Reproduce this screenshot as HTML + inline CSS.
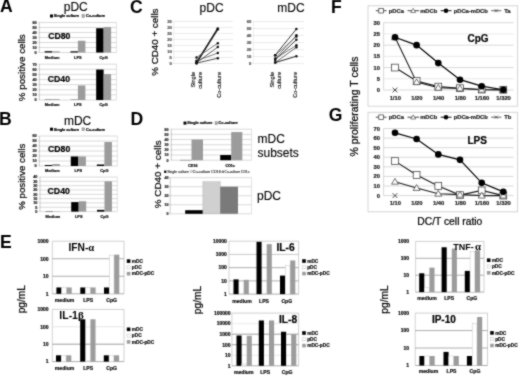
<!DOCTYPE html>
<html><head><meta charset="utf-8"><style>
html,body{margin:0;padding:0;background:#fff;width:520px;height:376px;overflow:hidden}
svg{display:block;filter:grayscale(1)}
text{font-family:"Liberation Sans", sans-serif}
</style></head><body>
<svg width="520" height="376" viewBox="0 0 520 376">
<defs><filter id="soft" x="0" y="0" width="1" height="1" color-interpolation-filters="sRGB"><feConvolveMatrix order="3" kernelMatrix="1 2 1 2 12 2 1 2 1" divisor="24" edgeMode="duplicate"/></filter></defs>
<rect width="520" height="376" fill="#fff"/>
<g filter="url(#soft)">
<rect width="520" height="376" fill="#fff"/>
<text x="0" y="12" font-size="17.6" font-weight="bold" fill="#000">A</text>
<text x="-1.0" y="125" font-size="17.6" font-weight="bold" fill="#000">B</text>
<text x="130.0" y="13" font-size="17.6" font-weight="bold" fill="#000">C</text>
<text x="130.4" y="125" font-size="17.6" font-weight="bold" fill="#000">D</text>
<text x="-0.1" y="248" font-size="17.6" font-weight="bold" fill="#000">E</text>
<text x="330.9" y="13" font-size="17.6" font-weight="bold" fill="#000">F</text>
<text x="328.8" y="121" font-size="17.6" font-weight="bold" fill="#000">G</text>
<text x="75.8" y="11.4" font-size="12" text-anchor="middle" fill="#000" stroke="#000" stroke-width="0.12">pDC</text>
<rect x="50.00" y="14.50" width="3.00" height="3.00" fill="#000"/>
<text x="53.8" y="17.3" font-size="3.8" font-weight="bold" fill="#000" stroke="#000" stroke-width="0.22">Single culture</text>
<rect x="82.00" y="14.70" width="2.60" height="2.60" fill="#b0b0b0" stroke="#777" stroke-width="0.5"/>
<text x="86.0" y="17.3" font-size="3.8" font-weight="bold" fill="#000" stroke="#000" stroke-width="0.22">Co-culture</text>
<line x1="39.30" y1="52.50" x2="116.50" y2="52.50" stroke="#d0d0d0" stroke-width="0.8"/>
<line x1="38.50" y1="52.50" x2="39.30" y2="52.50" stroke="#888" stroke-width="0.4"/>
<text x="36.699999999999996" y="53.9" font-size="3.8" font-weight="bold" text-anchor="end" fill="#222" stroke="#222" stroke-width="0.22">0</text>
<line x1="39.30" y1="47.50" x2="116.50" y2="47.50" stroke="#d0d0d0" stroke-width="0.8"/>
<line x1="38.50" y1="47.50" x2="39.30" y2="47.50" stroke="#888" stroke-width="0.4"/>
<text x="36.699999999999996" y="48.9" font-size="3.8" font-weight="bold" text-anchor="end" fill="#222" stroke="#222" stroke-width="0.22">10</text>
<line x1="39.30" y1="42.50" x2="116.50" y2="42.50" stroke="#d0d0d0" stroke-width="0.8"/>
<line x1="38.50" y1="42.50" x2="39.30" y2="42.50" stroke="#888" stroke-width="0.4"/>
<text x="36.699999999999996" y="43.9" font-size="3.8" font-weight="bold" text-anchor="end" fill="#222" stroke="#222" stroke-width="0.22">20</text>
<line x1="39.30" y1="37.50" x2="116.50" y2="37.50" stroke="#d0d0d0" stroke-width="0.8"/>
<line x1="38.50" y1="37.50" x2="39.30" y2="37.50" stroke="#888" stroke-width="0.4"/>
<text x="36.699999999999996" y="38.9" font-size="3.8" font-weight="bold" text-anchor="end" fill="#222" stroke="#222" stroke-width="0.22">30</text>
<line x1="39.30" y1="32.50" x2="116.50" y2="32.50" stroke="#d0d0d0" stroke-width="0.8"/>
<line x1="38.50" y1="32.50" x2="39.30" y2="32.50" stroke="#888" stroke-width="0.4"/>
<text x="36.699999999999996" y="33.9" font-size="3.8" font-weight="bold" text-anchor="end" fill="#222" stroke="#222" stroke-width="0.22">40</text>
<line x1="39.30" y1="27.50" x2="116.50" y2="27.50" stroke="#d0d0d0" stroke-width="0.8"/>
<line x1="38.50" y1="27.50" x2="39.30" y2="27.50" stroke="#888" stroke-width="0.4"/>
<text x="36.699999999999996" y="28.9" font-size="3.8" font-weight="bold" text-anchor="end" fill="#222" stroke="#222" stroke-width="0.22">50</text>
<line x1="39.30" y1="22.50" x2="116.50" y2="22.50" stroke="#d0d0d0" stroke-width="0.8"/>
<line x1="38.50" y1="22.50" x2="39.30" y2="22.50" stroke="#888" stroke-width="0.4"/>
<text x="36.699999999999996" y="23.9" font-size="3.8" font-weight="bold" text-anchor="end" fill="#222" stroke="#222" stroke-width="0.22">60</text>
<line x1="39.30" y1="22.50" x2="39.30" y2="52.50" stroke="#999" stroke-width="0.5"/>
<line x1="116.50" y1="22.50" x2="116.50" y2="52.50" stroke="#d0d0d0" stroke-width="0.6"/>
<rect x="44.70" y="51.20" width="7.46" height="1.30" fill="#000"/>
<rect x="52.17" y="51.30" width="7.46" height="1.20" fill="#9c9c9c"/>
<rect x="70.44" y="51.30" width="7.46" height="1.20" fill="#000"/>
<rect x="77.90" y="40.75" width="7.46" height="11.75" fill="#9c9c9c"/>
<rect x="96.17" y="28.25" width="7.46" height="24.25" fill="#000"/>
<rect x="103.63" y="27.00" width="7.46" height="25.50" fill="#9c9c9c"/>
<text x="52.166666666666664" y="59.3" font-size="3.9" font-weight="bold" text-anchor="middle" fill="#111" stroke="#111" stroke-width="0.22">Medium</text>
<text x="77.9" y="59.3" font-size="3.9" font-weight="bold" text-anchor="middle" fill="#111" stroke="#111" stroke-width="0.22">LPS</text>
<text x="103.63333333333334" y="59.3" font-size="3.9" font-weight="bold" text-anchor="middle" fill="#111" stroke="#111" stroke-width="0.22">CpG</text>
<text x="48.2" y="39.2" font-size="8.7" font-weight="bold" fill="#000" stroke="#000" stroke-width="0.2">CD80</text>
<line x1="39.30" y1="100.00" x2="116.50" y2="100.00" stroke="#d0d0d0" stroke-width="0.8"/>
<line x1="38.50" y1="100.00" x2="39.30" y2="100.00" stroke="#888" stroke-width="0.4"/>
<text x="36.699999999999996" y="101.4" font-size="3.8" font-weight="bold" text-anchor="end" fill="#222" stroke="#222" stroke-width="0.22">0</text>
<line x1="39.30" y1="94.89" x2="116.50" y2="94.89" stroke="#d0d0d0" stroke-width="0.8"/>
<line x1="38.50" y1="94.89" x2="39.30" y2="94.89" stroke="#888" stroke-width="0.4"/>
<text x="36.699999999999996" y="96.28571428571429" font-size="3.8" font-weight="bold" text-anchor="end" fill="#222" stroke="#222" stroke-width="0.22">10</text>
<line x1="39.30" y1="89.77" x2="116.50" y2="89.77" stroke="#d0d0d0" stroke-width="0.8"/>
<line x1="38.50" y1="89.77" x2="39.30" y2="89.77" stroke="#888" stroke-width="0.4"/>
<text x="36.699999999999996" y="91.17142857142858" font-size="3.8" font-weight="bold" text-anchor="end" fill="#222" stroke="#222" stroke-width="0.22">20</text>
<line x1="39.30" y1="84.66" x2="116.50" y2="84.66" stroke="#d0d0d0" stroke-width="0.8"/>
<line x1="38.50" y1="84.66" x2="39.30" y2="84.66" stroke="#888" stroke-width="0.4"/>
<text x="36.699999999999996" y="86.05714285714286" font-size="3.8" font-weight="bold" text-anchor="end" fill="#222" stroke="#222" stroke-width="0.22">30</text>
<line x1="39.30" y1="79.54" x2="116.50" y2="79.54" stroke="#d0d0d0" stroke-width="0.8"/>
<line x1="38.50" y1="79.54" x2="39.30" y2="79.54" stroke="#888" stroke-width="0.4"/>
<text x="36.699999999999996" y="80.94285714285715" font-size="3.8" font-weight="bold" text-anchor="end" fill="#222" stroke="#222" stroke-width="0.22">40</text>
<line x1="39.30" y1="74.43" x2="116.50" y2="74.43" stroke="#d0d0d0" stroke-width="0.8"/>
<line x1="38.50" y1="74.43" x2="39.30" y2="74.43" stroke="#888" stroke-width="0.4"/>
<text x="36.699999999999996" y="75.82857142857144" font-size="3.8" font-weight="bold" text-anchor="end" fill="#222" stroke="#222" stroke-width="0.22">50</text>
<line x1="39.30" y1="69.31" x2="116.50" y2="69.31" stroke="#d0d0d0" stroke-width="0.8"/>
<line x1="38.50" y1="69.31" x2="39.30" y2="69.31" stroke="#888" stroke-width="0.4"/>
<text x="36.699999999999996" y="70.71428571428572" font-size="3.8" font-weight="bold" text-anchor="end" fill="#222" stroke="#222" stroke-width="0.22">60</text>
<line x1="39.30" y1="64.20" x2="116.50" y2="64.20" stroke="#d0d0d0" stroke-width="0.8"/>
<line x1="38.50" y1="64.20" x2="39.30" y2="64.20" stroke="#888" stroke-width="0.4"/>
<text x="36.699999999999996" y="65.60000000000001" font-size="3.8" font-weight="bold" text-anchor="end" fill="#222" stroke="#222" stroke-width="0.22">70</text>
<line x1="39.30" y1="64.20" x2="39.30" y2="100.00" stroke="#999" stroke-width="0.5"/>
<line x1="116.50" y1="64.20" x2="116.50" y2="100.00" stroke="#d0d0d0" stroke-width="0.6"/>
<rect x="44.70" y="99.69" width="7.46" height="0.31" fill="#000"/>
<rect x="52.17" y="99.18" width="7.46" height="0.82" fill="#9c9c9c"/>
<rect x="70.44" y="99.74" width="7.46" height="0.26" fill="#000"/>
<rect x="77.90" y="85.48" width="7.46" height="14.52" fill="#9c9c9c"/>
<rect x="96.17" y="69.57" width="7.46" height="30.43" fill="#000"/>
<rect x="103.63" y="74.12" width="7.46" height="25.88" fill="#9c9c9c"/>
<text x="52.166666666666664" y="105.8" font-size="3.9" font-weight="bold" text-anchor="middle" fill="#111" stroke="#111" stroke-width="0.22">Medium</text>
<text x="77.9" y="105.8" font-size="3.9" font-weight="bold" text-anchor="middle" fill="#111" stroke="#111" stroke-width="0.22">LPS</text>
<text x="103.63333333333334" y="105.8" font-size="3.9" font-weight="bold" text-anchor="middle" fill="#111" stroke="#111" stroke-width="0.22">CpG</text>
<text x="47.8" y="81.6" font-size="8.7" font-weight="bold" fill="#000" stroke="#000" stroke-width="0.2">CD40</text>
<text x="0" y="0" font-size="9.8" text-anchor="middle" fill="#000" transform="translate(25.4,67.75) rotate(-90)" stroke="#000" stroke-width="0.22">% positive cells</text>
<text x="77.6" y="125.4" font-size="12" text-anchor="middle" fill="#000" stroke="#000" stroke-width="0.12">mDC</text>
<rect x="50.00" y="127.70" width="3.00" height="3.00" fill="#000"/>
<text x="53.8" y="130.5" font-size="3.8" font-weight="bold" fill="#000" stroke="#000" stroke-width="0.22">Single culture</text>
<rect x="82.00" y="127.90" width="2.60" height="2.60" fill="#b0b0b0" stroke="#777" stroke-width="0.5"/>
<text x="86.0" y="130.5" font-size="3.8" font-weight="bold" fill="#000" stroke="#000" stroke-width="0.22">Co-culture</text>
<line x1="39.30" y1="166.00" x2="117.40" y2="166.00" stroke="#d0d0d0" stroke-width="0.8"/>
<line x1="38.50" y1="166.00" x2="39.30" y2="166.00" stroke="#888" stroke-width="0.4"/>
<text x="36.699999999999996" y="167.4" font-size="3.8" font-weight="bold" text-anchor="end" fill="#222" stroke="#222" stroke-width="0.22">0</text>
<line x1="39.30" y1="161.00" x2="117.40" y2="161.00" stroke="#d0d0d0" stroke-width="0.8"/>
<line x1="38.50" y1="161.00" x2="39.30" y2="161.00" stroke="#888" stroke-width="0.4"/>
<text x="36.699999999999996" y="162.4" font-size="3.8" font-weight="bold" text-anchor="end" fill="#222" stroke="#222" stroke-width="0.22">10</text>
<line x1="39.30" y1="156.00" x2="117.40" y2="156.00" stroke="#d0d0d0" stroke-width="0.8"/>
<line x1="38.50" y1="156.00" x2="39.30" y2="156.00" stroke="#888" stroke-width="0.4"/>
<text x="36.699999999999996" y="157.4" font-size="3.8" font-weight="bold" text-anchor="end" fill="#222" stroke="#222" stroke-width="0.22">20</text>
<line x1="39.30" y1="151.00" x2="117.40" y2="151.00" stroke="#d0d0d0" stroke-width="0.8"/>
<line x1="38.50" y1="151.00" x2="39.30" y2="151.00" stroke="#888" stroke-width="0.4"/>
<text x="36.699999999999996" y="152.4" font-size="3.8" font-weight="bold" text-anchor="end" fill="#222" stroke="#222" stroke-width="0.22">30</text>
<line x1="39.30" y1="146.00" x2="117.40" y2="146.00" stroke="#d0d0d0" stroke-width="0.8"/>
<line x1="38.50" y1="146.00" x2="39.30" y2="146.00" stroke="#888" stroke-width="0.4"/>
<text x="36.699999999999996" y="147.4" font-size="3.8" font-weight="bold" text-anchor="end" fill="#222" stroke="#222" stroke-width="0.22">40</text>
<line x1="39.30" y1="141.00" x2="117.40" y2="141.00" stroke="#d0d0d0" stroke-width="0.8"/>
<line x1="38.50" y1="141.00" x2="39.30" y2="141.00" stroke="#888" stroke-width="0.4"/>
<text x="36.699999999999996" y="142.4" font-size="3.8" font-weight="bold" text-anchor="end" fill="#222" stroke="#222" stroke-width="0.22">50</text>
<line x1="39.30" y1="136.00" x2="117.40" y2="136.00" stroke="#d0d0d0" stroke-width="0.8"/>
<line x1="38.50" y1="136.00" x2="39.30" y2="136.00" stroke="#888" stroke-width="0.4"/>
<text x="36.699999999999996" y="137.4" font-size="3.8" font-weight="bold" text-anchor="end" fill="#222" stroke="#222" stroke-width="0.22">60</text>
<line x1="39.30" y1="136.00" x2="39.30" y2="166.00" stroke="#999" stroke-width="0.5"/>
<line x1="117.40" y1="136.00" x2="117.40" y2="166.00" stroke="#d0d0d0" stroke-width="0.6"/>
<rect x="44.77" y="165.00" width="7.55" height="1.00" fill="#000"/>
<rect x="52.32" y="164.00" width="7.55" height="2.00" fill="#9c9c9c"/>
<rect x="70.80" y="156.50" width="7.55" height="9.50" fill="#000"/>
<rect x="78.35" y="156.50" width="7.55" height="9.50" fill="#9c9c9c"/>
<rect x="96.83" y="164.50" width="7.55" height="1.50" fill="#000"/>
<rect x="104.38" y="142.00" width="7.55" height="24.00" fill="#9c9c9c"/>
<text x="52.31666666666666" y="172.2" font-size="3.9" font-weight="bold" text-anchor="middle" fill="#111" stroke="#111" stroke-width="0.22">Medium</text>
<text x="78.35" y="172.2" font-size="3.9" font-weight="bold" text-anchor="middle" fill="#111" stroke="#111" stroke-width="0.22">LPS</text>
<text x="104.38333333333334" y="172.2" font-size="3.9" font-weight="bold" text-anchor="middle" fill="#111" stroke="#111" stroke-width="0.22">CpG</text>
<text x="48" y="152.2" font-size="8.7" font-weight="bold" fill="#000" stroke="#000" stroke-width="0.2">CD80</text>
<line x1="40.00" y1="211.60" x2="117.40" y2="211.60" stroke="#d0d0d0" stroke-width="0.8"/>
<line x1="39.20" y1="211.60" x2="40.00" y2="211.60" stroke="#888" stroke-width="0.4"/>
<text x="37.4" y="213.0" font-size="3.8" font-weight="bold" text-anchor="end" fill="#222" stroke="#222" stroke-width="0.22">0</text>
<line x1="40.00" y1="207.28" x2="117.40" y2="207.28" stroke="#d0d0d0" stroke-width="0.8"/>
<line x1="39.20" y1="207.28" x2="40.00" y2="207.28" stroke="#888" stroke-width="0.4"/>
<text x="37.4" y="208.675" font-size="3.8" font-weight="bold" text-anchor="end" fill="#222" stroke="#222" stroke-width="0.22">5</text>
<line x1="40.00" y1="202.95" x2="117.40" y2="202.95" stroke="#d0d0d0" stroke-width="0.8"/>
<line x1="39.20" y1="202.95" x2="40.00" y2="202.95" stroke="#888" stroke-width="0.4"/>
<text x="37.4" y="204.35" font-size="3.8" font-weight="bold" text-anchor="end" fill="#222" stroke="#222" stroke-width="0.22">10</text>
<line x1="40.00" y1="198.62" x2="117.40" y2="198.62" stroke="#d0d0d0" stroke-width="0.8"/>
<line x1="39.20" y1="198.62" x2="40.00" y2="198.62" stroke="#888" stroke-width="0.4"/>
<text x="37.4" y="200.025" font-size="3.8" font-weight="bold" text-anchor="end" fill="#222" stroke="#222" stroke-width="0.22">15</text>
<line x1="40.00" y1="194.30" x2="117.40" y2="194.30" stroke="#d0d0d0" stroke-width="0.8"/>
<line x1="39.20" y1="194.30" x2="40.00" y2="194.30" stroke="#888" stroke-width="0.4"/>
<text x="37.4" y="195.70000000000002" font-size="3.8" font-weight="bold" text-anchor="end" fill="#222" stroke="#222" stroke-width="0.22">20</text>
<line x1="40.00" y1="189.97" x2="117.40" y2="189.97" stroke="#d0d0d0" stroke-width="0.8"/>
<line x1="39.20" y1="189.97" x2="40.00" y2="189.97" stroke="#888" stroke-width="0.4"/>
<text x="37.4" y="191.375" font-size="3.8" font-weight="bold" text-anchor="end" fill="#222" stroke="#222" stroke-width="0.22">25</text>
<line x1="40.00" y1="185.65" x2="117.40" y2="185.65" stroke="#d0d0d0" stroke-width="0.8"/>
<line x1="39.20" y1="185.65" x2="40.00" y2="185.65" stroke="#888" stroke-width="0.4"/>
<text x="37.4" y="187.05" font-size="3.8" font-weight="bold" text-anchor="end" fill="#222" stroke="#222" stroke-width="0.22">30</text>
<line x1="40.00" y1="181.32" x2="117.40" y2="181.32" stroke="#d0d0d0" stroke-width="0.8"/>
<line x1="39.20" y1="181.32" x2="40.00" y2="181.32" stroke="#888" stroke-width="0.4"/>
<text x="37.4" y="182.725" font-size="3.8" font-weight="bold" text-anchor="end" fill="#222" stroke="#222" stroke-width="0.22">35</text>
<line x1="40.00" y1="177.00" x2="117.40" y2="177.00" stroke="#d0d0d0" stroke-width="0.8"/>
<line x1="39.20" y1="177.00" x2="40.00" y2="177.00" stroke="#888" stroke-width="0.4"/>
<text x="37.4" y="178.4" font-size="3.8" font-weight="bold" text-anchor="end" fill="#222" stroke="#222" stroke-width="0.22">40</text>
<line x1="40.00" y1="177.00" x2="40.00" y2="211.60" stroke="#999" stroke-width="0.5"/>
<line x1="117.40" y1="177.00" x2="117.40" y2="211.60" stroke="#d0d0d0" stroke-width="0.6"/>
<rect x="45.42" y="211.25" width="7.48" height="0.35" fill="#000"/>
<rect x="52.90" y="211.34" width="7.48" height="0.26" fill="#9c9c9c"/>
<rect x="71.22" y="202.09" width="7.48" height="9.51" fill="#000"/>
<rect x="78.70" y="201.22" width="7.48" height="10.38" fill="#9c9c9c"/>
<rect x="97.02" y="209.87" width="7.48" height="1.73" fill="#000"/>
<rect x="104.50" y="181.32" width="7.48" height="30.27" fill="#9c9c9c"/>
<text x="52.9" y="217.6" font-size="3.9" font-weight="bold" text-anchor="middle" fill="#111" stroke="#111" stroke-width="0.22">Medium</text>
<text x="78.7" y="217.6" font-size="3.9" font-weight="bold" text-anchor="middle" fill="#111" stroke="#111" stroke-width="0.22">LPS</text>
<text x="104.5" y="217.6" font-size="3.9" font-weight="bold" text-anchor="middle" fill="#111" stroke="#111" stroke-width="0.22">CpG</text>
<text x="47.6" y="193.6" font-size="8.7" font-weight="bold" fill="#000" stroke="#000" stroke-width="0.2">CD40</text>
<text x="0" y="0" font-size="9.7" text-anchor="middle" fill="#000" transform="translate(24.6,176.65) rotate(-90)" stroke="#000" stroke-width="0.22">% positive cells</text>
<text x="0" y="0" font-size="9.8" text-anchor="middle" fill="#000" transform="translate(157.6,42.15) rotate(-90)" stroke="#000" stroke-width="0.22">% CD40 + cells</text>
<line x1="173.90" y1="63.50" x2="233.00" y2="63.50" stroke="#e4e4e4" stroke-width="0.8"/>
<line x1="172.90" y1="63.50" x2="173.90" y2="63.50" stroke="#ccc" stroke-width="0.5"/>
<text x="171.9" y="65.0" font-size="4.1" font-weight="bold" text-anchor="end" fill="#555" stroke="#555" stroke-width="0.22">0</text>
<line x1="173.90" y1="57.49" x2="233.00" y2="57.49" stroke="#e4e4e4" stroke-width="0.8"/>
<line x1="172.90" y1="57.49" x2="173.90" y2="57.49" stroke="#ccc" stroke-width="0.5"/>
<text x="171.9" y="58.98571428571429" font-size="4.1" font-weight="bold" text-anchor="end" fill="#555" stroke="#555" stroke-width="0.22">5</text>
<line x1="173.90" y1="51.47" x2="233.00" y2="51.47" stroke="#e4e4e4" stroke-width="0.8"/>
<line x1="172.90" y1="51.47" x2="173.90" y2="51.47" stroke="#ccc" stroke-width="0.5"/>
<text x="171.9" y="52.971428571428575" font-size="4.1" font-weight="bold" text-anchor="end" fill="#555" stroke="#555" stroke-width="0.22">10</text>
<line x1="173.90" y1="45.46" x2="233.00" y2="45.46" stroke="#e4e4e4" stroke-width="0.8"/>
<line x1="172.90" y1="45.46" x2="173.90" y2="45.46" stroke="#ccc" stroke-width="0.5"/>
<text x="171.9" y="46.957142857142856" font-size="4.1" font-weight="bold" text-anchor="end" fill="#555" stroke="#555" stroke-width="0.22">15</text>
<line x1="173.90" y1="39.44" x2="233.00" y2="39.44" stroke="#e4e4e4" stroke-width="0.8"/>
<line x1="172.90" y1="39.44" x2="173.90" y2="39.44" stroke="#ccc" stroke-width="0.5"/>
<text x="171.9" y="40.94285714285714" font-size="4.1" font-weight="bold" text-anchor="end" fill="#555" stroke="#555" stroke-width="0.22">20</text>
<line x1="173.90" y1="33.43" x2="233.00" y2="33.43" stroke="#e4e4e4" stroke-width="0.8"/>
<line x1="172.90" y1="33.43" x2="173.90" y2="33.43" stroke="#ccc" stroke-width="0.5"/>
<text x="171.9" y="34.92857142857143" font-size="4.1" font-weight="bold" text-anchor="end" fill="#555" stroke="#555" stroke-width="0.22">25</text>
<line x1="173.90" y1="27.41" x2="233.00" y2="27.41" stroke="#e4e4e4" stroke-width="0.8"/>
<line x1="172.90" y1="27.41" x2="173.90" y2="27.41" stroke="#ccc" stroke-width="0.5"/>
<text x="171.9" y="28.91428571428571" font-size="4.1" font-weight="bold" text-anchor="end" fill="#555" stroke="#555" stroke-width="0.22">30</text>
<line x1="173.90" y1="21.40" x2="233.00" y2="21.40" stroke="#e4e4e4" stroke-width="0.8"/>
<line x1="172.90" y1="21.40" x2="173.90" y2="21.40" stroke="#ccc" stroke-width="0.5"/>
<text x="171.9" y="22.9" font-size="4.1" font-weight="bold" text-anchor="end" fill="#555" stroke="#555" stroke-width="0.22">35</text>
<line x1="173.90" y1="21.40" x2="173.90" y2="63.50" stroke="#e4e4e4" stroke-width="0.6"/>
<text x="211.6" y="12" font-size="12" text-anchor="middle" fill="#000" stroke="#000" stroke-width="0.12">pDC</text>
<line x1="196.50" y1="63.14" x2="217.80" y2="28.38" stroke="#111" stroke-width="1.4"/>
<line x1="196.50" y1="62.06" x2="217.80" y2="29.34" stroke="#222" stroke-width="1.2"/>
<line x1="196.50" y1="57.49" x2="217.80" y2="43.29" stroke="#555" stroke-width="0.8"/>
<line x1="196.50" y1="62.78" x2="217.80" y2="47.02" stroke="#333" stroke-width="0.8"/>
<line x1="196.50" y1="60.85" x2="217.80" y2="53.04" stroke="#555" stroke-width="0.8"/>
<line x1="196.50" y1="63.14" x2="217.80" y2="58.21" stroke="#222" stroke-width="0.8"/>
<circle cx="196.50" cy="63.14" r="1.25" fill="#111"/>
<circle cx="217.80" cy="28.38" r="1.25" fill="#111"/>
<circle cx="196.50" cy="62.06" r="1.25" fill="#111"/>
<circle cx="217.80" cy="29.34" r="1.25" fill="#111"/>
<circle cx="196.50" cy="57.49" r="1.25" fill="#111"/>
<circle cx="217.80" cy="43.29" r="1.25" fill="#111"/>
<circle cx="196.50" cy="62.78" r="1.25" fill="#111"/>
<circle cx="217.80" cy="47.02" r="1.25" fill="#111"/>
<circle cx="196.50" cy="60.85" r="1.25" fill="#111"/>
<circle cx="217.80" cy="53.04" r="1.25" fill="#111"/>
<circle cx="196.50" cy="63.14" r="1.25" fill="#111"/>
<circle cx="217.80" cy="58.21" r="1.25" fill="#111"/>
<text x="0" y="0" font-size="5.6" text-anchor="end" fill="#111" transform="translate(194.9,72) rotate(-90)" stroke="#111" stroke-width="0.15">Single</text>
<text x="0" y="0" font-size="5.6" text-anchor="end" fill="#111" transform="translate(202.4,72) rotate(-90)" stroke="#111" stroke-width="0.15">culture</text>
<text x="0" y="0" font-size="5.6" text-anchor="end" fill="#111" transform="translate(220.6,72) rotate(-90)" stroke="#111" stroke-width="0.15">Co-culture</text>
<line x1="253.50" y1="63.60" x2="304.00" y2="63.60" stroke="#e4e4e4" stroke-width="0.8"/>
<line x1="252.50" y1="63.60" x2="253.50" y2="63.60" stroke="#ccc" stroke-width="0.5"/>
<text x="251.2" y="65.1" font-size="4.1" font-weight="bold" text-anchor="end" fill="#555" stroke="#555" stroke-width="0.22">0</text>
<line x1="253.50" y1="56.60" x2="304.00" y2="56.60" stroke="#e4e4e4" stroke-width="0.8"/>
<line x1="252.50" y1="56.60" x2="253.50" y2="56.60" stroke="#ccc" stroke-width="0.5"/>
<text x="251.2" y="58.1" font-size="4.1" font-weight="bold" text-anchor="end" fill="#555" stroke="#555" stroke-width="0.22">10</text>
<line x1="253.50" y1="49.60" x2="304.00" y2="49.60" stroke="#e4e4e4" stroke-width="0.8"/>
<line x1="252.50" y1="49.60" x2="253.50" y2="49.60" stroke="#ccc" stroke-width="0.5"/>
<text x="251.2" y="51.1" font-size="4.1" font-weight="bold" text-anchor="end" fill="#555" stroke="#555" stroke-width="0.22">20</text>
<line x1="253.50" y1="42.60" x2="304.00" y2="42.60" stroke="#e4e4e4" stroke-width="0.8"/>
<line x1="252.50" y1="42.60" x2="253.50" y2="42.60" stroke="#ccc" stroke-width="0.5"/>
<text x="251.2" y="44.1" font-size="4.1" font-weight="bold" text-anchor="end" fill="#555" stroke="#555" stroke-width="0.22">30</text>
<line x1="253.50" y1="35.60" x2="304.00" y2="35.60" stroke="#e4e4e4" stroke-width="0.8"/>
<line x1="252.50" y1="35.60" x2="253.50" y2="35.60" stroke="#ccc" stroke-width="0.5"/>
<text x="251.2" y="37.1" font-size="4.1" font-weight="bold" text-anchor="end" fill="#555" stroke="#555" stroke-width="0.22">40</text>
<line x1="253.50" y1="28.60" x2="304.00" y2="28.60" stroke="#e4e4e4" stroke-width="0.8"/>
<line x1="252.50" y1="28.60" x2="253.50" y2="28.60" stroke="#ccc" stroke-width="0.5"/>
<text x="251.2" y="30.1" font-size="4.1" font-weight="bold" text-anchor="end" fill="#555" stroke="#555" stroke-width="0.22">50</text>
<line x1="253.50" y1="21.60" x2="304.00" y2="21.60" stroke="#e4e4e4" stroke-width="0.8"/>
<line x1="252.50" y1="21.60" x2="253.50" y2="21.60" stroke="#ccc" stroke-width="0.5"/>
<text x="251.2" y="23.1" font-size="4.1" font-weight="bold" text-anchor="end" fill="#555" stroke="#555" stroke-width="0.22">60</text>
<line x1="253.50" y1="21.60" x2="253.50" y2="63.60" stroke="#e4e4e4" stroke-width="0.6"/>
<text x="291" y="12" font-size="12" text-anchor="middle" fill="#000" stroke="#000" stroke-width="0.12">mDC</text>
<line x1="275.20" y1="55.20" x2="296.40" y2="29.02" stroke="#222" stroke-width="0.9"/>
<line x1="275.20" y1="58.63" x2="296.40" y2="35.32" stroke="#555" stroke-width="0.8"/>
<line x1="275.20" y1="55.20" x2="296.40" y2="36.58" stroke="#666" stroke-width="0.8"/>
<line x1="275.20" y1="59.89" x2="296.40" y2="39.73" stroke="#222" stroke-width="0.9"/>
<line x1="275.20" y1="58.63" x2="296.40" y2="45.33" stroke="#555" stroke-width="0.8"/>
<line x1="275.20" y1="62.62" x2="296.40" y2="47.29" stroke="#444" stroke-width="0.8"/>
<line x1="275.20" y1="62.62" x2="296.40" y2="56.18" stroke="#222" stroke-width="1.0"/>
<circle cx="275.20" cy="55.20" r="1.25" fill="#111"/>
<circle cx="296.40" cy="29.02" r="1.25" fill="#111"/>
<circle cx="275.20" cy="58.63" r="1.25" fill="#111"/>
<circle cx="296.40" cy="35.32" r="1.25" fill="#111"/>
<circle cx="275.20" cy="55.20" r="1.25" fill="#111"/>
<circle cx="296.40" cy="36.58" r="1.25" fill="#111"/>
<circle cx="275.20" cy="59.89" r="1.25" fill="#111"/>
<circle cx="296.40" cy="39.73" r="1.25" fill="#111"/>
<circle cx="275.20" cy="58.63" r="1.25" fill="#111"/>
<circle cx="296.40" cy="45.33" r="1.25" fill="#111"/>
<circle cx="275.20" cy="62.62" r="1.25" fill="#111"/>
<circle cx="296.40" cy="47.29" r="1.25" fill="#111"/>
<circle cx="275.20" cy="62.62" r="1.25" fill="#111"/>
<circle cx="296.40" cy="56.18" r="1.25" fill="#111"/>
<text x="0" y="0" font-size="5.6" text-anchor="end" fill="#111" transform="translate(273.59999999999997,72) rotate(-90)" stroke="#111" stroke-width="0.15">Single</text>
<text x="0" y="0" font-size="5.6" text-anchor="end" fill="#111" transform="translate(281.09999999999997,72) rotate(-90)" stroke="#111" stroke-width="0.15">culture</text>
<text x="0" y="0" font-size="5.6" text-anchor="end" fill="#111" transform="translate(297.4,72) rotate(-90)" stroke="#111" stroke-width="0.15">Co-culture</text>
<text x="0" y="0" font-size="9.9" text-anchor="middle" fill="#000" transform="translate(160.6,174.3) rotate(-90)" stroke="#000" stroke-width="0.22">% CD40 + cells</text>
<rect x="183.50" y="121.60" width="3.00" height="3.00" fill="#000"/>
<text x="187.3" y="124.4" font-size="3.8" font-weight="bold" fill="#000" stroke="#000" stroke-width="0.22">Single culture</text>
<rect x="215.00" y="121.80" width="2.60" height="2.60" fill="#b0b0b0" stroke="#777" stroke-width="0.5"/>
<text x="218.6" y="124.4" font-size="3.8" font-weight="bold" fill="#000" stroke="#000" stroke-width="0.22">Co-culture</text>
<line x1="171.30" y1="160.20" x2="251.50" y2="160.20" stroke="#d0d0d0" stroke-width="0.8"/>
<line x1="170.50" y1="160.20" x2="171.30" y2="160.20" stroke="#888" stroke-width="0.4"/>
<text x="168.6" y="161.5" font-size="3.6" font-weight="bold" text-anchor="end" fill="#222" stroke="#222" stroke-width="0.22">0</text>
<line x1="171.30" y1="155.03" x2="251.50" y2="155.03" stroke="#d0d0d0" stroke-width="0.8"/>
<line x1="170.50" y1="155.03" x2="171.30" y2="155.03" stroke="#888" stroke-width="0.4"/>
<text x="168.6" y="156.33333333333334" font-size="3.6" font-weight="bold" text-anchor="end" fill="#222" stroke="#222" stroke-width="0.22">10</text>
<line x1="171.30" y1="149.87" x2="251.50" y2="149.87" stroke="#d0d0d0" stroke-width="0.8"/>
<line x1="170.50" y1="149.87" x2="171.30" y2="149.87" stroke="#888" stroke-width="0.4"/>
<text x="168.6" y="151.16666666666666" font-size="3.6" font-weight="bold" text-anchor="end" fill="#222" stroke="#222" stroke-width="0.22">20</text>
<line x1="171.30" y1="144.70" x2="251.50" y2="144.70" stroke="#d0d0d0" stroke-width="0.8"/>
<line x1="170.50" y1="144.70" x2="171.30" y2="144.70" stroke="#888" stroke-width="0.4"/>
<text x="168.6" y="146.0" font-size="3.6" font-weight="bold" text-anchor="end" fill="#222" stroke="#222" stroke-width="0.22">30</text>
<line x1="171.30" y1="139.53" x2="251.50" y2="139.53" stroke="#d0d0d0" stroke-width="0.8"/>
<line x1="170.50" y1="139.53" x2="171.30" y2="139.53" stroke="#888" stroke-width="0.4"/>
<text x="168.6" y="140.83333333333334" font-size="3.6" font-weight="bold" text-anchor="end" fill="#222" stroke="#222" stroke-width="0.22">40</text>
<line x1="171.30" y1="134.37" x2="251.50" y2="134.37" stroke="#d0d0d0" stroke-width="0.8"/>
<line x1="170.50" y1="134.37" x2="171.30" y2="134.37" stroke="#888" stroke-width="0.4"/>
<text x="168.6" y="135.66666666666666" font-size="3.6" font-weight="bold" text-anchor="end" fill="#222" stroke="#222" stroke-width="0.22">50</text>
<line x1="171.30" y1="129.20" x2="251.50" y2="129.20" stroke="#d0d0d0" stroke-width="0.8"/>
<line x1="170.50" y1="129.20" x2="171.30" y2="129.20" stroke="#888" stroke-width="0.4"/>
<text x="168.6" y="130.5" font-size="3.6" font-weight="bold" text-anchor="end" fill="#222" stroke="#222" stroke-width="0.22">60</text>
<line x1="171.30" y1="129.20" x2="171.30" y2="160.20" stroke="#999" stroke-width="0.5"/>
<line x1="251.50" y1="129.20" x2="251.50" y2="160.20" stroke="#d0d0d0" stroke-width="0.6"/>
<rect x="180.00" y="159.94" width="11.50" height="0.26" fill="#000"/>
<rect x="191.50" y="139.53" width="11.50" height="20.67" fill="#9c9c9c"/>
<rect x="220.20" y="155.03" width="11.00" height="5.17" fill="#000"/>
<rect x="231.20" y="132.04" width="11.10" height="28.16" fill="#9c9c9c"/>
<text x="192.8" y="166.8" font-size="3.6" font-weight="bold" text-anchor="middle" fill="#111" stroke="#111" stroke-width="0.22">CD16</text>
<text x="230.2" y="166.8" font-size="3.6" font-weight="bold" text-anchor="middle" fill="#111" stroke="#111" stroke-width="0.22">CD1c</text>
<text x="257.5" y="142.6" font-size="12" fill="#000" stroke="#000" stroke-width="0.12">mDC</text>
<text x="257.5" y="157.0" font-size="12" fill="#000" stroke="#000" stroke-width="0.12">subsets</text>
<rect x="164.10" y="170.60" width="2.30" height="2.30" fill="#000"/>
<text x="167.2" y="173.1" font-size="3.6" fill="#333" textLength="21.6" lengthAdjust="spacingAndGlyphs" stroke="#333" stroke-width="0.15">Single culture</text>
<rect x="190.10" y="170.60" width="2.20" height="2.20" fill="#ddd" stroke="#999" stroke-width="0.35"/>
<text x="192.8" y="173.1" font-size="3.6" fill="#333" textLength="28.0" lengthAdjust="spacingAndGlyphs" stroke="#333" stroke-width="0.15">Co-culture CD16</text>
<rect x="221.70" y="170.60" width="2.30" height="2.30" fill="#777"/>
<text x="224.5" y="173.1" font-size="3.6" fill="#333" textLength="24.9" lengthAdjust="spacingAndGlyphs" stroke="#333" stroke-width="0.15">Co-culture CD1c</text>
<line x1="170.20" y1="213.80" x2="251.50" y2="213.80" stroke="#d0d0d0" stroke-width="0.8"/>
<line x1="169.40" y1="213.80" x2="170.20" y2="213.80" stroke="#888" stroke-width="0.4"/>
<text x="168.6" y="215.10000000000002" font-size="3.6" font-weight="bold" text-anchor="end" fill="#222" stroke="#222" stroke-width="0.22">0</text>
<line x1="170.20" y1="204.78" x2="251.50" y2="204.78" stroke="#d0d0d0" stroke-width="0.8"/>
<line x1="169.40" y1="204.78" x2="170.20" y2="204.78" stroke="#888" stroke-width="0.4"/>
<text x="168.6" y="206.07500000000002" font-size="3.6" font-weight="bold" text-anchor="end" fill="#222" stroke="#222" stroke-width="0.22">10</text>
<line x1="170.20" y1="195.75" x2="251.50" y2="195.75" stroke="#d0d0d0" stroke-width="0.8"/>
<line x1="169.40" y1="195.75" x2="170.20" y2="195.75" stroke="#888" stroke-width="0.4"/>
<text x="168.6" y="197.05" font-size="3.6" font-weight="bold" text-anchor="end" fill="#222" stroke="#222" stroke-width="0.22">20</text>
<line x1="170.20" y1="186.72" x2="251.50" y2="186.72" stroke="#d0d0d0" stroke-width="0.8"/>
<line x1="169.40" y1="186.72" x2="170.20" y2="186.72" stroke="#888" stroke-width="0.4"/>
<text x="168.6" y="188.025" font-size="3.6" font-weight="bold" text-anchor="end" fill="#222" stroke="#222" stroke-width="0.22">30</text>
<line x1="170.20" y1="177.70" x2="251.50" y2="177.70" stroke="#d0d0d0" stroke-width="0.8"/>
<line x1="169.40" y1="177.70" x2="170.20" y2="177.70" stroke="#888" stroke-width="0.4"/>
<text x="168.6" y="179.0" font-size="3.6" font-weight="bold" text-anchor="end" fill="#222" stroke="#222" stroke-width="0.22">40</text>
<line x1="170.20" y1="177.70" x2="170.20" y2="213.80" stroke="#999" stroke-width="0.5"/>
<line x1="251.50" y1="177.70" x2="251.50" y2="213.80" stroke="#d0d0d0" stroke-width="0.6"/>
<rect x="185.20" y="210.19" width="17.70" height="3.61" fill="#000"/>
<rect x="202.90" y="181.76" width="17.30" height="32.04" fill="#d0d0d0" stroke="#aaa" stroke-width="0.4"/>
<rect x="220.20" y="186.72" width="17.80" height="27.08" fill="#7a7a7a"/>
<text x="257" y="200" font-size="12" fill="#000" stroke="#000" stroke-width="0.12">pDC</text>
<rect x="368.00" y="5.80" width="149.60" height="100.40" fill="#fff" stroke="#d0d0d0" stroke-width="0.9"/>
<line x1="375.80" y1="10.70" x2="386.60" y2="10.70" stroke="#333" stroke-width="0.9"/>
<rect x="378.80" y="8.40" width="4.60" height="4.60" fill="#fff" stroke="#333" stroke-width="0.7"/>
<text x="388.8" y="12.7" font-size="5.8" font-weight="bold" fill="#222" stroke="#222" stroke-width="0.22">pDCa</text>
<line x1="407.50" y1="10.70" x2="419.00" y2="10.70" stroke="#333" stroke-width="0.9"/>
<path d="M413.20,8.40 L415.70,12.50 L410.70,12.50 Z" stroke="#333" fill="#fff" stroke-width="0.6"/>
<text x="420.2" y="12.7" font-size="5.8" font-weight="bold" fill="#222" stroke="#222" stroke-width="0.22">mDCb</text>
<line x1="440.70" y1="10.70" x2="451.50" y2="10.70" stroke="#111" stroke-width="1.0"/>
<circle cx="446.00" cy="10.70" r="2.3" fill="#000"/>
<text x="453.7" y="12.7" font-size="5.8" font-weight="bold" fill="#222" stroke="#222" stroke-width="0.22">pDCa-mDCb</text>
<line x1="491.20" y1="10.70" x2="501.30" y2="10.70" stroke="#333" stroke-width="0.8"/>
<path d="M494.60,9.10 L497.80,12.30 M497.80,9.10 L494.60,12.30" stroke="#333" fill="none" stroke-width="0.6"/>
<text x="504.2" y="12.7" font-size="5.8" font-weight="bold" fill="#222" stroke="#222" stroke-width="0.22">Ta</text>
<line x1="383.60" y1="90.00" x2="513.50" y2="90.00" stroke="#d4d4d4" stroke-width="0.9"/>
<text x="380.0" y="92.0" font-size="5.8" font-weight="bold" text-anchor="end" fill="#222" stroke="#222" stroke-width="0.22">0</text>
<line x1="383.60" y1="78.78" x2="513.50" y2="78.78" stroke="#e6e6e6" stroke-width="0.9"/>
<text x="380.0" y="80.78333333333333" font-size="5.8" font-weight="bold" text-anchor="end" fill="#222" stroke="#222" stroke-width="0.22">5</text>
<line x1="383.60" y1="67.57" x2="513.50" y2="67.57" stroke="#d4d4d4" stroke-width="0.9"/>
<text x="380.0" y="69.56666666666666" font-size="5.8" font-weight="bold" text-anchor="end" fill="#222" stroke="#222" stroke-width="0.22">10</text>
<line x1="383.60" y1="56.35" x2="513.50" y2="56.35" stroke="#e6e6e6" stroke-width="0.9"/>
<text x="380.0" y="58.35" font-size="5.8" font-weight="bold" text-anchor="end" fill="#222" stroke="#222" stroke-width="0.22">15</text>
<line x1="383.60" y1="45.13" x2="513.50" y2="45.13" stroke="#d4d4d4" stroke-width="0.9"/>
<text x="380.0" y="47.13333333333334" font-size="5.8" font-weight="bold" text-anchor="end" fill="#222" stroke="#222" stroke-width="0.22">20</text>
<line x1="383.60" y1="33.92" x2="513.50" y2="33.92" stroke="#e6e6e6" stroke-width="0.9"/>
<text x="380.0" y="35.916666666666664" font-size="5.8" font-weight="bold" text-anchor="end" fill="#222" stroke="#222" stroke-width="0.22">25</text>
<line x1="383.60" y1="22.70" x2="513.50" y2="22.70" stroke="#d4d4d4" stroke-width="0.9"/>
<text x="380.0" y="24.700000000000003" font-size="5.8" font-weight="bold" text-anchor="end" fill="#222" stroke="#222" stroke-width="0.22">30</text>
<line x1="383.60" y1="22.70" x2="383.60" y2="90.00" stroke="#d4d4d4" stroke-width="0.9"/>
<text x="395.3" y="100.3" font-size="5.8" font-weight="bold" text-anchor="middle" fill="#222" stroke="#222" stroke-width="0.22">1/10</text>
<text x="416.90000000000003" y="100.3" font-size="5.8" font-weight="bold" text-anchor="middle" fill="#222" stroke="#222" stroke-width="0.22">1/20</text>
<text x="438.6" y="100.3" font-size="5.8" font-weight="bold" text-anchor="middle" fill="#222" stroke="#222" stroke-width="0.22">1/40</text>
<text x="460.3" y="100.3" font-size="5.8" font-weight="bold" text-anchor="middle" fill="#222" stroke="#222" stroke-width="0.22">1/80</text>
<text x="482.0" y="100.3" font-size="5.8" font-weight="bold" text-anchor="middle" fill="#222" stroke="#222" stroke-width="0.22">1/160</text>
<text x="503.6" y="100.3" font-size="5.8" font-weight="bold" text-anchor="middle" fill="#222" stroke="#222" stroke-width="0.22">1/320</text>
<text x="467.5" y="42.0" font-size="10" font-weight="bold" fill="#000" stroke="#000" stroke-width="0.2">CpG</text>
<polyline points="395.00,37.28 416.60,82.15 438.30,87.76 460.00,88.43 481.70,89.78 503.30,90.00" fill="none" stroke="#1a1a1a" stroke-width="1.1"/>
<polyline points="395.00,67.57 416.60,81.03 438.30,86.64 460.00,88.21 481.70,89.55 503.30,89.78" fill="none" stroke="#1a1a1a" stroke-width="1.1"/>
<polyline points="395.00,37.28 416.60,45.13 438.30,63.08 460.00,79.68 481.70,86.19 503.30,89.78" fill="none" stroke="#000" stroke-width="1.2"/>
<rect x="391.60" y="64.17" width="6.80" height="6.80" fill="#fff" stroke="#333" stroke-width="0.7"/>
<rect x="413.20" y="77.63" width="6.80" height="6.80" fill="#fff" stroke="#333" stroke-width="0.7"/>
<rect x="434.90" y="83.23" width="6.80" height="6.80" fill="#fff" stroke="#333" stroke-width="0.7"/>
<rect x="456.60" y="84.81" width="6.80" height="6.80" fill="#fff" stroke="#333" stroke-width="0.7"/>
<rect x="478.30" y="86.15" width="6.80" height="6.80" fill="#fff" stroke="#333" stroke-width="0.7"/>
<rect x="499.90" y="86.38" width="6.80" height="6.80" fill="#fff" stroke="#333" stroke-width="0.7"/>
<path d="M395.00,33.98 L398.46,39.76 L391.54,39.76 Z" stroke="#333" fill="#fff" stroke-width="0.7"/>
<path d="M416.60,78.85 L420.06,84.62 L413.14,84.62 Z" stroke="#333" fill="#fff" stroke-width="0.7"/>
<path d="M438.30,84.46 L441.76,90.23 L434.84,90.23 Z" stroke="#333" fill="#fff" stroke-width="0.7"/>
<path d="M460.00,85.13 L463.46,90.90 L456.54,90.90 Z" stroke="#333" fill="#fff" stroke-width="0.7"/>
<path d="M481.70,86.48 L485.16,92.25 L478.24,92.25 Z" stroke="#333" fill="#fff" stroke-width="0.7"/>
<path d="M503.30,86.70 L506.76,92.47 L499.84,92.47 Z" stroke="#333" fill="#fff" stroke-width="0.7"/>
<circle cx="395.00" cy="37.28" r="3.3" fill="#000"/>
<circle cx="416.60" cy="45.13" r="3.3" fill="#000"/>
<circle cx="438.30" cy="63.08" r="3.3" fill="#000"/>
<circle cx="460.00" cy="79.68" r="3.3" fill="#000"/>
<circle cx="481.70" cy="86.19" r="3.3" fill="#000"/>
<circle cx="503.30" cy="89.78" r="3.3" fill="#000"/>
<path d="M392.60,87.60 L397.40,92.40 M397.40,87.60 L392.60,92.40" stroke="#222" fill="none" stroke-width="0.8"/>
<rect x="368.00" y="112.30" width="149.60" height="99.50" fill="#fff" stroke="#d0d0d0" stroke-width="0.9"/>
<line x1="375.80" y1="117.20" x2="386.60" y2="117.20" stroke="#333" stroke-width="0.9"/>
<rect x="378.80" y="114.90" width="4.60" height="4.60" fill="#fff" stroke="#333" stroke-width="0.7"/>
<text x="388.8" y="119.2" font-size="5.8" font-weight="bold" fill="#222" stroke="#222" stroke-width="0.22">pDCa</text>
<line x1="407.50" y1="117.20" x2="419.00" y2="117.20" stroke="#333" stroke-width="0.9"/>
<path d="M413.20,114.90 L415.70,119.00 L410.70,119.00 Z" stroke="#333" fill="#fff" stroke-width="0.6"/>
<text x="420.2" y="119.2" font-size="5.8" font-weight="bold" fill="#222" stroke="#222" stroke-width="0.22">mDCb</text>
<line x1="440.70" y1="117.20" x2="451.50" y2="117.20" stroke="#111" stroke-width="1.0"/>
<circle cx="446.00" cy="117.20" r="2.3" fill="#000"/>
<text x="453.7" y="119.2" font-size="5.8" font-weight="bold" fill="#222" stroke="#222" stroke-width="0.22">pDCa-mDCb</text>
<line x1="491.20" y1="117.20" x2="501.30" y2="117.20" stroke="#333" stroke-width="0.8"/>
<path d="M494.60,115.60 L497.80,118.80 M497.80,115.60 L494.60,118.80" stroke="#333" fill="none" stroke-width="0.6"/>
<text x="504.2" y="119.2" font-size="5.8" font-weight="bold" fill="#222" stroke="#222" stroke-width="0.22">Tb</text>
<line x1="383.60" y1="195.60" x2="513.50" y2="195.60" stroke="#d4d4d4" stroke-width="0.9"/>
<text x="380.0" y="197.6" font-size="5.8" font-weight="bold" text-anchor="end" fill="#222" stroke="#222" stroke-width="0.22">0</text>
<line x1="383.60" y1="186.01" x2="513.50" y2="186.01" stroke="#d4d4d4" stroke-width="0.9"/>
<text x="380.0" y="188.0142857142857" font-size="5.8" font-weight="bold" text-anchor="end" fill="#222" stroke="#222" stroke-width="0.22">10</text>
<line x1="383.60" y1="176.43" x2="513.50" y2="176.43" stroke="#d4d4d4" stroke-width="0.9"/>
<text x="380.0" y="178.42857142857142" font-size="5.8" font-weight="bold" text-anchor="end" fill="#222" stroke="#222" stroke-width="0.22">20</text>
<line x1="383.60" y1="166.84" x2="513.50" y2="166.84" stroke="#d4d4d4" stroke-width="0.9"/>
<text x="380.0" y="168.84285714285716" font-size="5.8" font-weight="bold" text-anchor="end" fill="#222" stroke="#222" stroke-width="0.22">30</text>
<line x1="383.60" y1="157.26" x2="513.50" y2="157.26" stroke="#d4d4d4" stroke-width="0.9"/>
<text x="380.0" y="159.25714285714287" font-size="5.8" font-weight="bold" text-anchor="end" fill="#222" stroke="#222" stroke-width="0.22">40</text>
<line x1="383.60" y1="147.67" x2="513.50" y2="147.67" stroke="#d4d4d4" stroke-width="0.9"/>
<text x="380.0" y="149.67142857142858" font-size="5.8" font-weight="bold" text-anchor="end" fill="#222" stroke="#222" stroke-width="0.22">50</text>
<line x1="383.60" y1="138.09" x2="513.50" y2="138.09" stroke="#d4d4d4" stroke-width="0.9"/>
<text x="380.0" y="140.0857142857143" font-size="5.8" font-weight="bold" text-anchor="end" fill="#222" stroke="#222" stroke-width="0.22">60</text>
<line x1="383.60" y1="128.50" x2="513.50" y2="128.50" stroke="#d4d4d4" stroke-width="0.9"/>
<text x="380.0" y="130.5" font-size="5.8" font-weight="bold" text-anchor="end" fill="#222" stroke="#222" stroke-width="0.22">70</text>
<line x1="383.60" y1="128.50" x2="383.60" y2="195.60" stroke="#d4d4d4" stroke-width="0.9"/>
<text x="395.3" y="205.3" font-size="5.8" font-weight="bold" text-anchor="middle" fill="#222" stroke="#222" stroke-width="0.22">1/10</text>
<text x="416.90000000000003" y="205.3" font-size="5.8" font-weight="bold" text-anchor="middle" fill="#222" stroke="#222" stroke-width="0.22">1/20</text>
<text x="438.6" y="205.3" font-size="5.8" font-weight="bold" text-anchor="middle" fill="#222" stroke="#222" stroke-width="0.22">1/40</text>
<text x="460.3" y="205.3" font-size="5.8" font-weight="bold" text-anchor="middle" fill="#222" stroke="#222" stroke-width="0.22">1/80</text>
<text x="482.0" y="205.3" font-size="5.8" font-weight="bold" text-anchor="middle" fill="#222" stroke="#222" stroke-width="0.22">1/160</text>
<text x="503.6" y="205.3" font-size="5.8" font-weight="bold" text-anchor="middle" fill="#222" stroke="#222" stroke-width="0.22">1/320</text>
<text x="467.5" y="144.4" font-size="10" font-weight="bold" fill="#000" stroke="#000" stroke-width="0.2">LPS</text>
<polyline points="395.00,181.70 416.60,187.93 438.30,193.68 460.00,194.64 481.70,195.60 503.30,195.60" fill="none" stroke="#1a1a1a" stroke-width="1.1"/>
<polyline points="395.00,161.09 416.60,174.99 438.30,186.01 460.00,195.12 481.70,190.42 503.30,195.60" fill="none" stroke="#1a1a1a" stroke-width="1.1"/>
<polyline points="395.00,132.81 416.60,139.04 438.30,154.38 460.00,159.85 481.70,182.85 503.30,191.86" fill="none" stroke="#000" stroke-width="1.2"/>
<rect x="391.60" y="157.69" width="6.80" height="6.80" fill="#fff" stroke="#333" stroke-width="0.7"/>
<rect x="413.20" y="171.59" width="6.80" height="6.80" fill="#fff" stroke="#333" stroke-width="0.7"/>
<rect x="434.90" y="182.61" width="6.80" height="6.80" fill="#fff" stroke="#333" stroke-width="0.7"/>
<rect x="456.60" y="191.72" width="6.80" height="6.80" fill="#fff" stroke="#333" stroke-width="0.7"/>
<rect x="478.30" y="187.02" width="6.80" height="6.80" fill="#fff" stroke="#333" stroke-width="0.7"/>
<rect x="499.90" y="192.20" width="6.80" height="6.80" fill="#fff" stroke="#333" stroke-width="0.7"/>
<path d="M395.00,178.40 L398.46,184.18 L391.54,184.18 Z" stroke="#333" fill="#fff" stroke-width="0.7"/>
<path d="M416.60,184.63 L420.06,190.41 L413.14,190.41 Z" stroke="#333" fill="#fff" stroke-width="0.7"/>
<path d="M438.30,190.38 L441.76,196.16 L434.84,196.16 Z" stroke="#333" fill="#fff" stroke-width="0.7"/>
<path d="M460.00,191.34 L463.46,197.12 L456.54,197.12 Z" stroke="#333" fill="#fff" stroke-width="0.7"/>
<path d="M481.70,192.30 L485.16,198.07 L478.24,198.07 Z" stroke="#333" fill="#fff" stroke-width="0.7"/>
<path d="M503.30,192.30 L506.76,198.07 L499.84,198.07 Z" stroke="#333" fill="#fff" stroke-width="0.7"/>
<circle cx="395.00" cy="132.81" r="3.3" fill="#000"/>
<circle cx="416.60" cy="139.04" r="3.3" fill="#000"/>
<circle cx="438.30" cy="154.38" r="3.3" fill="#000"/>
<circle cx="460.00" cy="159.85" r="3.3" fill="#000"/>
<circle cx="481.70" cy="182.85" r="3.3" fill="#000"/>
<circle cx="503.30" cy="191.86" r="3.3" fill="#000"/>
<path d="M392.60,193.20 L397.40,198.00 M397.40,193.20 L392.60,198.00" stroke="#222" fill="none" stroke-width="0.8"/>
<text x="0" y="0" font-size="10.5" text-anchor="middle" fill="#000" transform="translate(358,106.6) rotate(-90)" stroke="#000" stroke-width="0.22">% proliferating T cells</text>
<text x="449.8" y="225.4" font-size="10.3" text-anchor="middle" fill="#000" stroke="#000" stroke-width="0.22">DC/T cell ratio</text>
<line x1="52.30" y1="241.20" x2="124.00" y2="241.20" stroke="#c4c4c4" stroke-width="0.8"/>
<line x1="124.00" y1="241.20" x2="124.00" y2="293.80" stroke="#c4c4c4" stroke-width="0.8"/>
<line x1="52.30" y1="241.20" x2="52.30" y2="293.80" stroke="#c8c8c8" stroke-width="0.8"/>
<text x="48.6" y="295.6" font-size="5.0" font-weight="bold" text-anchor="end" fill="#111" stroke="#111" stroke-width="0.22">1</text>
<line x1="52.30" y1="276.27" x2="124.00" y2="276.27" stroke="#999" stroke-width="0.8"/>
<text x="48.6" y="278.06666666666666" font-size="5.0" font-weight="bold" text-anchor="end" fill="#111" stroke="#111" stroke-width="0.22">10</text>
<line x1="52.30" y1="258.73" x2="124.00" y2="258.73" stroke="#999" stroke-width="0.8"/>
<text x="48.6" y="260.53333333333336" font-size="5.0" font-weight="bold" text-anchor="end" fill="#111" stroke="#111" stroke-width="0.22">100</text>
<text x="48.6" y="243.0" font-size="5.0" font-weight="bold" text-anchor="end" fill="#111" stroke="#111" stroke-width="0.22">1000</text>
<line x1="52.30" y1="293.80" x2="124.00" y2="293.80" stroke="#999" stroke-width="0.8"/>
<rect x="56.40" y="287.46" width="5.10" height="6.34" fill="#000"/>
<rect x="61.70" y="287.46" width="4.70" height="6.34" fill="#fff" stroke="#c8c8c8" stroke-width="0.5"/>
<rect x="66.60" y="287.46" width="5.10" height="6.34" fill="#9c9c9c"/>
<rect x="80.30" y="287.46" width="5.10" height="6.34" fill="#000"/>
<rect x="85.60" y="287.46" width="4.70" height="6.34" fill="#fff" stroke="#c8c8c8" stroke-width="0.5"/>
<rect x="90.50" y="287.46" width="5.10" height="6.34" fill="#9c9c9c"/>
<rect x="104.00" y="287.46" width="5.10" height="6.34" fill="#000"/>
<rect x="109.30" y="255.15" width="4.70" height="38.65" fill="#fff" stroke="#c8c8c8" stroke-width="0.5"/>
<rect x="114.20" y="254.69" width="5.10" height="39.11" fill="#9c9c9c"/>
<text x="64.6" y="302.0" font-size="5.1" font-weight="bold" text-anchor="middle" fill="#111" stroke="#111" stroke-width="0.22">medium</text>
<text x="88.1" y="302.0" font-size="5.1" font-weight="bold" text-anchor="middle" fill="#111" stroke="#111" stroke-width="0.22">LPS</text>
<text x="111.7" y="302.0" font-size="5.1" font-weight="bold" text-anchor="middle" fill="#111" stroke="#111" stroke-width="0.22">CpG</text>
<text x="68.5" y="251" font-size="10.2" font-weight="bold" fill="#000">IFN-<tspan dx="0" font-family="Liberation Serif" font-weight="bold" font-size="10.71">&#945;</tspan></text>
<rect x="126.80" y="259.30" width="3.60" height="3.60" fill="#000"/>
<text x="131.8" y="262.85" font-size="4.75" font-weight="bold" fill="#111" stroke="#111" stroke-width="0.22">mDC</text>
<rect x="127.05" y="265.85" width="3.10" height="3.10" fill="#fff" stroke="#c0c0c0" stroke-width="0.5"/>
<text x="131.8" y="269.15000000000003" font-size="4.75" font-weight="bold" fill="#111" stroke="#111" stroke-width="0.22">pDC</text>
<rect x="126.80" y="271.90" width="3.60" height="3.60" fill="#9c9c9c"/>
<text x="131.8" y="275.45000000000005" font-size="4.75" font-weight="bold" fill="#111" stroke="#111" stroke-width="0.22">mDC-pDC</text>
<line x1="52.30" y1="309.40" x2="124.00" y2="309.40" stroke="#c4c4c4" stroke-width="0.8"/>
<line x1="124.00" y1="309.40" x2="124.00" y2="361.60" stroke="#c4c4c4" stroke-width="0.8"/>
<line x1="52.30" y1="309.40" x2="52.30" y2="361.60" stroke="#c8c8c8" stroke-width="0.8"/>
<text x="48.6" y="363.40000000000003" font-size="5.0" font-weight="bold" text-anchor="end" fill="#111" stroke="#111" stroke-width="0.22">1</text>
<line x1="52.30" y1="344.20" x2="124.00" y2="344.20" stroke="#888" stroke-width="0.8"/>
<text x="48.6" y="346.0" font-size="5.0" font-weight="bold" text-anchor="end" fill="#111" stroke="#111" stroke-width="0.22">10</text>
<line x1="52.30" y1="326.80" x2="124.00" y2="326.80" stroke="#e0e0e0" stroke-width="0.8"/>
<text x="48.6" y="328.6" font-size="5.0" font-weight="bold" text-anchor="end" fill="#111" stroke="#111" stroke-width="0.22">100</text>
<text x="48.6" y="311.2" font-size="5.0" font-weight="bold" text-anchor="end" fill="#111" stroke="#111" stroke-width="0.22">1000</text>
<line x1="52.30" y1="361.60" x2="124.00" y2="361.60" stroke="#999" stroke-width="0.8"/>
<rect x="56.00" y="355.31" width="5.10" height="6.29" fill="#000"/>
<rect x="61.30" y="355.31" width="4.70" height="6.29" fill="#fff" stroke="#c8c8c8" stroke-width="0.5"/>
<rect x="66.20" y="355.31" width="5.10" height="6.29" fill="#9c9c9c"/>
<rect x="80.20" y="319.29" width="5.10" height="42.31" fill="#000"/>
<rect x="85.50" y="360.88" width="4.70" height="0.72" fill="#fff" stroke="#c8c8c8" stroke-width="0.5"/>
<rect x="90.40" y="319.29" width="5.10" height="42.31" fill="#9c9c9c"/>
<rect x="103.80" y="355.31" width="5.10" height="6.29" fill="#000"/>
<rect x="109.10" y="355.31" width="4.70" height="6.29" fill="#fff" stroke="#c8c8c8" stroke-width="0.5"/>
<rect x="114.00" y="355.31" width="5.10" height="6.29" fill="#9c9c9c"/>
<text x="64.6" y="370.0" font-size="5.1" font-weight="bold" text-anchor="middle" fill="#111" stroke="#111" stroke-width="0.22">medium</text>
<text x="88.1" y="370.0" font-size="5.1" font-weight="bold" text-anchor="middle" fill="#111" stroke="#111" stroke-width="0.22">LPS</text>
<text x="111.7" y="370.0" font-size="5.1" font-weight="bold" text-anchor="middle" fill="#111" stroke="#111" stroke-width="0.22">CpG</text>
<text x="59.3" y="319.2" font-size="10.5" font-weight="bold" fill="#000">IL-1<tspan dx="0" font-family="Liberation Serif" font-weight="bold" font-size="11.03">&#946;</tspan></text>
<rect x="126.80" y="327.50" width="3.60" height="3.60" fill="#000"/>
<text x="131.8" y="331.05" font-size="4.75" font-weight="bold" fill="#111" stroke="#111" stroke-width="0.22">mDC</text>
<rect x="127.05" y="334.05" width="3.10" height="3.10" fill="#fff" stroke="#c0c0c0" stroke-width="0.5"/>
<text x="131.8" y="337.35" font-size="4.75" font-weight="bold" fill="#111" stroke="#111" stroke-width="0.22">pDC</text>
<rect x="126.80" y="340.10" width="3.60" height="3.60" fill="#9c9c9c"/>
<text x="131.8" y="343.65000000000003" font-size="4.75" font-weight="bold" fill="#111" stroke="#111" stroke-width="0.22">mDC-pDC</text>
<line x1="229.00" y1="241.20" x2="298.60" y2="241.20" stroke="#c4c4c4" stroke-width="0.8"/>
<line x1="298.60" y1="241.20" x2="298.60" y2="294.10" stroke="#c4c4c4" stroke-width="0.8"/>
<line x1="229.00" y1="241.20" x2="229.00" y2="294.10" stroke="#c8c8c8" stroke-width="0.8"/>
<text x="226.8" y="295.90000000000003" font-size="5.0" font-weight="bold" text-anchor="end" fill="#111" stroke="#111" stroke-width="0.22">1</text>
<line x1="229.00" y1="280.88" x2="298.60" y2="280.88" stroke="#999" stroke-width="0.8"/>
<text x="226.8" y="282.675" font-size="5.0" font-weight="bold" text-anchor="end" fill="#111" stroke="#111" stroke-width="0.22">10</text>
<line x1="229.00" y1="267.65" x2="298.60" y2="267.65" stroke="#999" stroke-width="0.8"/>
<text x="226.8" y="269.45" font-size="5.0" font-weight="bold" text-anchor="end" fill="#111" stroke="#111" stroke-width="0.22">100</text>
<line x1="229.00" y1="254.43" x2="298.60" y2="254.43" stroke="#bbb" stroke-width="0.8"/>
<text x="226.8" y="256.225" font-size="5.0" font-weight="bold" text-anchor="end" fill="#111" stroke="#111" stroke-width="0.22">1000</text>
<text x="226.8" y="243.0" font-size="5.0" font-weight="bold" text-anchor="end" fill="#111" stroke="#111" stroke-width="0.22">10000</text>
<line x1="229.00" y1="294.10" x2="298.60" y2="294.10" stroke="#999" stroke-width="0.8"/>
<rect x="233.50" y="279.37" width="5.10" height="14.73" fill="#000"/>
<rect x="243.70" y="279.83" width="5.10" height="14.27" fill="#9c9c9c"/>
<rect x="256.50" y="241.81" width="5.10" height="52.29" fill="#000"/>
<rect x="266.70" y="244.13" width="5.10" height="49.97" fill="#9c9c9c"/>
<rect x="280.00" y="275.61" width="5.10" height="18.49" fill="#000"/>
<rect x="285.30" y="265.32" width="4.70" height="28.78" fill="#fff" stroke="#c8c8c8" stroke-width="0.5"/>
<rect x="290.20" y="260.45" width="5.10" height="33.65" fill="#9c9c9c"/>
<text x="242.0" y="302.6" font-size="5.1" font-weight="bold" text-anchor="middle" fill="#111" stroke="#111" stroke-width="0.22">medium</text>
<text x="264.0" y="302.6" font-size="5.1" font-weight="bold" text-anchor="middle" fill="#111" stroke="#111" stroke-width="0.22">LPS</text>
<text x="286.8" y="302.6" font-size="5.1" font-weight="bold" text-anchor="middle" fill="#111" stroke="#111" stroke-width="0.22">CpG</text>
<text x="276.5" y="251" font-size="10.2" font-weight="bold" fill="#000" stroke="#000" stroke-width="0.2">IL-6</text>
<rect x="302.20" y="259.20" width="3.60" height="3.60" fill="#000"/>
<text x="307.2" y="262.75" font-size="4.75" font-weight="bold" fill="#111" stroke="#111" stroke-width="0.22">mDC</text>
<rect x="302.45" y="265.75" width="3.10" height="3.10" fill="#fff" stroke="#c0c0c0" stroke-width="0.5"/>
<text x="307.2" y="269.05" font-size="4.75" font-weight="bold" fill="#111" stroke="#111" stroke-width="0.22">pDC</text>
<rect x="302.20" y="271.80" width="3.60" height="3.60" fill="#9c9c9c"/>
<text x="307.2" y="275.35" font-size="4.75" font-weight="bold" fill="#111" stroke="#111" stroke-width="0.22">mDC-pDC</text>
<line x1="231.90" y1="313.10" x2="298.60" y2="313.10" stroke="#c4c4c4" stroke-width="0.8"/>
<line x1="298.60" y1="313.10" x2="298.60" y2="365.80" stroke="#c4c4c4" stroke-width="0.8"/>
<line x1="231.90" y1="313.10" x2="231.90" y2="365.80" stroke="#c8c8c8" stroke-width="0.8"/>
<text x="230.6" y="367.6" font-size="5.0" font-weight="bold" text-anchor="end" fill="#111" stroke="#111" stroke-width="0.22">1</text>
<line x1="231.90" y1="355.26" x2="298.60" y2="355.26" stroke="#e4e4e4" stroke-width="0.8"/>
<text x="230.6" y="357.06" font-size="5.0" font-weight="bold" text-anchor="end" fill="#111" stroke="#111" stroke-width="0.22">10</text>
<line x1="231.90" y1="344.72" x2="298.60" y2="344.72" stroke="#888" stroke-width="0.8"/>
<text x="230.6" y="346.52000000000004" font-size="5.0" font-weight="bold" text-anchor="end" fill="#111" stroke="#111" stroke-width="0.22">100</text>
<line x1="231.90" y1="334.18" x2="298.60" y2="334.18" stroke="#888" stroke-width="0.8"/>
<text x="230.6" y="335.98" font-size="5.0" font-weight="bold" text-anchor="end" fill="#111" stroke="#111" stroke-width="0.22">1000</text>
<line x1="231.90" y1="323.64" x2="298.60" y2="323.64" stroke="#e8e8e8" stroke-width="0.8"/>
<text x="230.6" y="325.44000000000005" font-size="5.0" font-weight="bold" text-anchor="end" fill="#111" stroke="#111" stroke-width="0.22">10000</text>
<text x="230.6" y="314.90000000000003" font-size="5.0" font-weight="bold" text-anchor="end" fill="#111" stroke="#111" stroke-width="0.22">100000</text>
<line x1="231.90" y1="365.80" x2="298.60" y2="365.80" stroke="#999" stroke-width="0.8"/>
<rect x="236.50" y="335.50" width="5.10" height="30.30" fill="#000"/>
<rect x="241.80" y="363.94" width="4.70" height="1.86" fill="#fff" stroke="#c8c8c8" stroke-width="0.5"/>
<rect x="246.70" y="335.81" width="5.10" height="29.99" fill="#9c9c9c"/>
<rect x="258.80" y="320.47" width="5.10" height="45.33" fill="#000"/>
<rect x="269.00" y="320.47" width="5.10" height="45.33" fill="#9c9c9c"/>
<rect x="281.00" y="331.75" width="5.10" height="34.05" fill="#000"/>
<rect x="291.20" y="334.18" width="5.10" height="31.62" fill="#9c9c9c"/>
<text x="243.7" y="373.5" font-size="5.1" font-weight="bold" text-anchor="middle" fill="#111" stroke="#111" stroke-width="0.22">medium</text>
<text x="265.2" y="373.5" font-size="5.1" font-weight="bold" text-anchor="middle" fill="#111" stroke="#111" stroke-width="0.22">LPS</text>
<text x="287.2" y="373.5" font-size="5.1" font-weight="bold" text-anchor="middle" fill="#111" stroke="#111" stroke-width="0.22">CpG</text>
<text x="279" y="322.8" font-size="10.2" font-weight="bold" fill="#000" stroke="#000" stroke-width="0.2">IL-8</text>
<rect x="302.20" y="331.20" width="3.60" height="3.60" fill="#000"/>
<text x="307.2" y="334.75" font-size="4.75" font-weight="bold" fill="#111" stroke="#111" stroke-width="0.22">mDC</text>
<rect x="302.45" y="337.75" width="3.10" height="3.10" fill="#fff" stroke="#c0c0c0" stroke-width="0.5"/>
<text x="307.2" y="341.05" font-size="4.75" font-weight="bold" fill="#111" stroke="#111" stroke-width="0.22">pDC</text>
<rect x="302.20" y="343.80" width="3.60" height="3.60" fill="#9c9c9c"/>
<text x="307.2" y="347.35" font-size="4.75" font-weight="bold" fill="#111" stroke="#111" stroke-width="0.22">mDC-pDC</text>
<line x1="415.60" y1="241.40" x2="484.00" y2="241.40" stroke="#c4c4c4" stroke-width="0.8"/>
<line x1="484.00" y1="241.40" x2="484.00" y2="292.10" stroke="#c4c4c4" stroke-width="0.8"/>
<line x1="415.60" y1="241.40" x2="415.60" y2="292.10" stroke="#c8c8c8" stroke-width="0.8"/>
<text x="409" y="293.90000000000003" font-size="5.0" font-weight="bold" text-anchor="end" fill="#111" stroke="#111" stroke-width="0.22">1</text>
<line x1="415.60" y1="275.20" x2="484.00" y2="275.20" stroke="#999" stroke-width="0.8"/>
<text x="409" y="277.00000000000006" font-size="5.0" font-weight="bold" text-anchor="end" fill="#111" stroke="#111" stroke-width="0.22">10</text>
<line x1="415.60" y1="258.30" x2="484.00" y2="258.30" stroke="#999" stroke-width="0.8"/>
<text x="409" y="260.1" font-size="5.0" font-weight="bold" text-anchor="end" fill="#111" stroke="#111" stroke-width="0.22">100</text>
<text x="409" y="243.20000000000002" font-size="5.0" font-weight="bold" text-anchor="end" fill="#111" stroke="#111" stroke-width="0.22">1000</text>
<line x1="415.60" y1="292.10" x2="484.00" y2="292.10" stroke="#999" stroke-width="0.8"/>
<rect x="419.20" y="273.27" width="5.10" height="18.83" fill="#000"/>
<rect x="424.50" y="287.79" width="4.70" height="4.31" fill="#fff" stroke="#c8c8c8" stroke-width="0.5"/>
<rect x="429.40" y="267.64" width="5.10" height="24.46" fill="#9c9c9c"/>
<rect x="441.60" y="247.26" width="5.10" height="44.84" fill="#000"/>
<rect x="451.80" y="248.50" width="5.10" height="43.60" fill="#9c9c9c"/>
<rect x="464.80" y="270.89" width="5.10" height="21.21" fill="#000"/>
<rect x="470.10" y="251.57" width="4.70" height="40.53" fill="#fff" stroke="#c8c8c8" stroke-width="0.5"/>
<rect x="475.00" y="250.24" width="5.10" height="41.86" fill="#9c9c9c"/>
<text x="427.0" y="300.2" font-size="5.1" font-weight="bold" text-anchor="middle" fill="#111" stroke="#111" stroke-width="0.22">medium</text>
<text x="449.2" y="300.2" font-size="5.1" font-weight="bold" text-anchor="middle" fill="#111" stroke="#111" stroke-width="0.22">LPS</text>
<text x="471.9" y="300.2" font-size="5.1" font-weight="bold" text-anchor="middle" fill="#111" stroke="#111" stroke-width="0.22">CpG</text>
<text x="453.2" y="249.9" font-size="9.0" font-weight="bold" fill="#000">TNF-<tspan dx="1.2" font-family="Liberation Serif" font-weight="bold" font-size="10.80">&#945;</tspan></text>
<rect x="486.90" y="258.40" width="3.60" height="3.60" fill="#000"/>
<text x="491.9" y="261.95" font-size="4.75" font-weight="bold" fill="#111" stroke="#111" stroke-width="0.22">mDC</text>
<rect x="487.15" y="264.95" width="3.10" height="3.10" fill="#fff" stroke="#c0c0c0" stroke-width="0.5"/>
<text x="491.9" y="268.25" font-size="4.75" font-weight="bold" fill="#111" stroke="#111" stroke-width="0.22">pDC</text>
<rect x="486.90" y="271.00" width="3.60" height="3.60" fill="#9c9c9c"/>
<text x="491.9" y="274.55" font-size="4.75" font-weight="bold" fill="#111" stroke="#111" stroke-width="0.22">mDC-pDC</text>
<line x1="415.20" y1="313.10" x2="487.50" y2="313.10" stroke="#c4c4c4" stroke-width="0.8"/>
<line x1="487.50" y1="313.10" x2="487.50" y2="365.50" stroke="#c4c4c4" stroke-width="0.8"/>
<line x1="415.20" y1="313.10" x2="415.20" y2="365.50" stroke="#c8c8c8" stroke-width="0.8"/>
<text x="409" y="367.3" font-size="5.0" font-weight="bold" text-anchor="end" fill="#111" stroke="#111" stroke-width="0.22">1</text>
<line x1="415.20" y1="348.03" x2="487.50" y2="348.03" stroke="#999" stroke-width="0.8"/>
<text x="409" y="349.83333333333337" font-size="5.0" font-weight="bold" text-anchor="end" fill="#111" stroke="#111" stroke-width="0.22">10</text>
<line x1="415.20" y1="330.57" x2="487.50" y2="330.57" stroke="#999" stroke-width="0.8"/>
<text x="409" y="332.3666666666667" font-size="5.0" font-weight="bold" text-anchor="end" fill="#111" stroke="#111" stroke-width="0.22">100</text>
<text x="409" y="314.90000000000003" font-size="5.0" font-weight="bold" text-anchor="end" fill="#111" stroke="#111" stroke-width="0.22">1000</text>
<line x1="415.20" y1="365.50" x2="487.50" y2="365.50" stroke="#999" stroke-width="0.8"/>
<rect x="419.40" y="356.00" width="5.10" height="9.50" fill="#000"/>
<rect x="424.70" y="356.00" width="4.70" height="9.50" fill="#fff" stroke="#c8c8c8" stroke-width="0.5"/>
<rect x="429.60" y="356.00" width="5.10" height="9.50" fill="#9c9c9c"/>
<rect x="443.50" y="351.91" width="5.10" height="13.59" fill="#000"/>
<rect x="448.80" y="356.00" width="4.70" height="9.50" fill="#fff" stroke="#c8c8c8" stroke-width="0.5"/>
<rect x="453.70" y="356.00" width="5.10" height="9.50" fill="#9c9c9c"/>
<rect x="466.90" y="356.00" width="5.10" height="9.50" fill="#000"/>
<rect x="472.20" y="323.32" width="4.70" height="42.18" fill="#fff" stroke="#c8c8c8" stroke-width="0.5"/>
<rect x="477.10" y="316.97" width="5.10" height="48.53" fill="#9c9c9c"/>
<text x="428.5" y="373.4" font-size="5.1" font-weight="bold" text-anchor="middle" fill="#111" stroke="#111" stroke-width="0.22">medium</text>
<text x="451.5" y="373.4" font-size="5.1" font-weight="bold" text-anchor="middle" fill="#111" stroke="#111" stroke-width="0.22">LPS</text>
<text x="475.0" y="373.4" font-size="5.1" font-weight="bold" text-anchor="middle" fill="#111" stroke="#111" stroke-width="0.22">CpG</text>
<text x="431.9" y="323.4" font-size="10" font-weight="bold" fill="#000" stroke="#000" stroke-width="0.2">IP-10</text>
<rect x="490.20" y="331.10" width="3.60" height="3.60" fill="#000"/>
<text x="495.2" y="334.65" font-size="4.75" font-weight="bold" fill="#111" stroke="#111" stroke-width="0.22">mDC</text>
<rect x="490.45" y="337.65" width="3.10" height="3.10" fill="#fff" stroke="#c0c0c0" stroke-width="0.5"/>
<text x="495.2" y="340.95" font-size="4.75" font-weight="bold" fill="#111" stroke="#111" stroke-width="0.22">pDC</text>
<rect x="490.20" y="343.70" width="3.60" height="3.60" fill="#9c9c9c"/>
<text x="495.2" y="347.25" font-size="4.75" font-weight="bold" fill="#111" stroke="#111" stroke-width="0.22">mDC-pDC</text>
<text x="0" y="0" font-size="10.2" text-anchor="middle" fill="#000" transform="translate(25.3,299.2) rotate(-90)" stroke="#000" stroke-width="0.22">pg/mL</text>
<text x="0" y="0" font-size="10.2" text-anchor="middle" fill="#000" transform="translate(201.4,300) rotate(-90)" stroke="#000" stroke-width="0.22">pg/mL</text>
<text x="0" y="0" font-size="10.2" text-anchor="middle" fill="#000" transform="translate(388,299.5) rotate(-90)" stroke="#000" stroke-width="0.22">pg/mL</text>
</g>
</svg>
</body></html>
